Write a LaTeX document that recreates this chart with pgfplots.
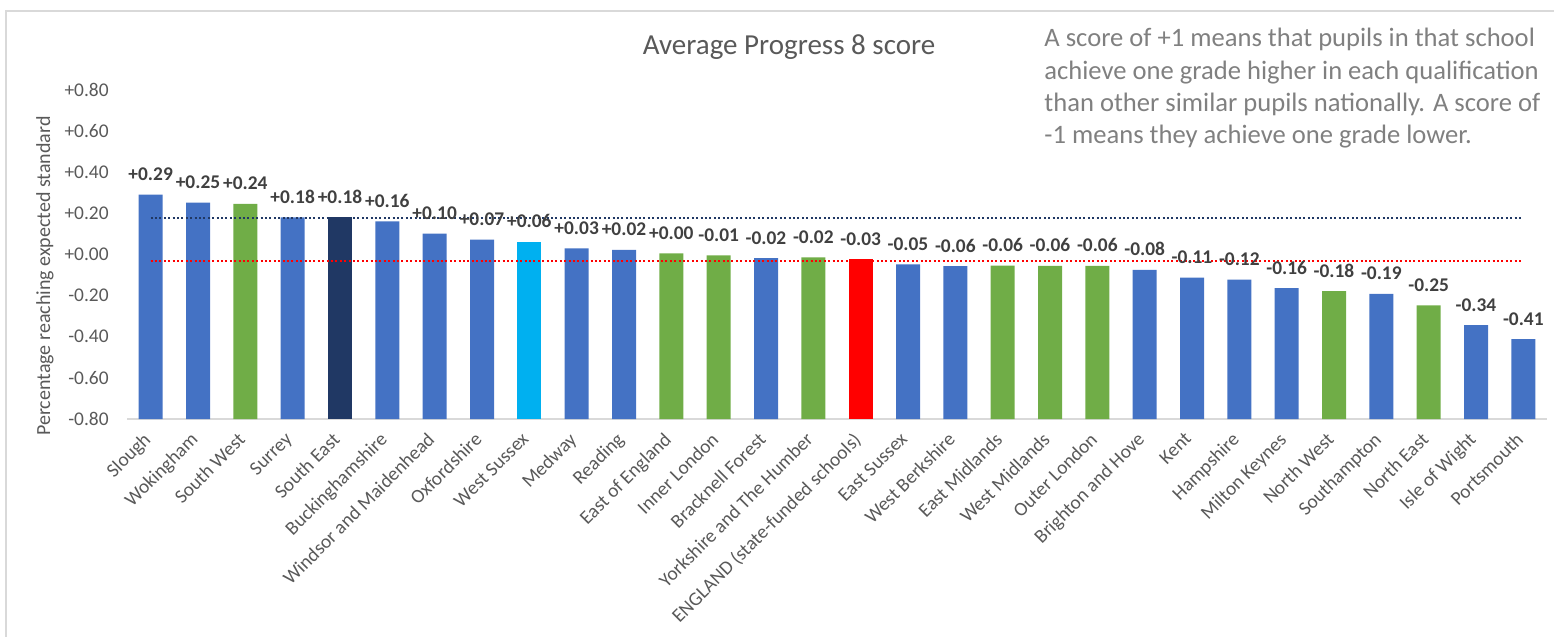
\documentclass[border=0pt]{standalone}
\usepackage{pgfplots}
\pgfplotsset{compat=1.18}
\usepackage{pgfplotstable}
\usepackage{fontspec}
\setmainfont{Carlito}
\definecolor{cblue}{HTML}{4472C4}
\definecolor{cgreen}{HTML}{70AD47}
\definecolor{cnavy}{HTML}{203864}
\definecolor{ccyan}{HTML}{00B0F0}
\definecolor{cred}{HTML}{FF0000}
\definecolor{ctext}{HTML}{595959}
\definecolor{clab}{HTML}{404040}
\definecolor{cnote}{HTML}{808080}
\definecolor{cframe}{HTML}{D9D9D9}

% values
\pgfplotstableread{
x v lab
0 0.291 +0.29
1 0.252 +0.25
3 0.181 +0.18
5 0.161 +0.16
6 0.101 +0.10
7 0.072 +0.07
9 0.030 +0.03
10 0.022 +0.02
13 -0.018 -0.02
16 -0.048 -0.05
17 -0.057 -0.06
21 -0.075 -0.08
22 -0.113 -0.11
23 -0.122 -0.12
24 -0.163 -0.16
26 -0.192 -0.19
28 -0.343 -0.34
29 -0.411 -0.41
}\blueT
\pgfplotstableread{
x v lab
2 0.246 +0.24
11 0.006 +0.00
12 -0.004 -0.01
14 -0.014 -0.02
18 -0.054 -0.06
19 -0.055 -0.06
20 -0.055 -0.06
25 -0.178 -0.18
27 -0.247 -0.25
}\greenT
\pgfplotstableread{
x v lab
4 0.181 +0.18
}\navyT
\pgfplotstableread{
x v lab
8 0.062 +0.06
}\cyanT
\pgfplotstableread{
x v lab
15 -0.023 -0.03
}\redT
\pgfplotstableread{
x v
0 0.178
29 0.178
}\navyline
\pgfplotstableread{
x v
0 -0.030
29 -0.030
}\redline

\begin{document}
\begin{tikzpicture}[x=1pt,y=1pt]
\useasboundingbox (-63.5,-109) rectangle (713.5,209.5);
\draw[cframe, line width=1pt] (-60.5,-112) -- (-60.5,204) -- (716,204);
\begin{axis}[
  at={(0pt,0pt)}, anchor=south west,
  scale only axis, width=710pt, height=164.5pt,
  xmin=-0.5, xmax=29.5, ymin=0, ymax=1.6,
  enlargelimits=false, clip=false,
  axis x line*=bottom, axis y line*=left,
  x axis line style={draw=cframe, line width=1pt, -},
  y axis line style={draw=none},
  tick style={draw=none},
  ytick={0,0.2,0.4,0.6,0.8,1,1.2,1.4,1.6},
  yticklabels={-0.80,-0.60,-0.40,-0.20,+0.00,+0.20,+0.40,+0.60,+0.80},
  yticklabel style={font=\fontsize{9.7pt}{11pt}\selectfont, color=ctext, anchor=east, inner sep=0pt, xshift=-9pt},
  xtick={0,...,29},
  xticklabels={Slough,Wokingham,South West,Surrey,South East,Buckinghamshire,Windsor and Maidenhead,Oxfordshire,West Sussex,Medway,Reading,East of England,Inner London,Bracknell Forest,Yorkshire and The Humber,ENGLAND (state-funded schools),East Sussex,West Berkshire,East Midlands,West Midlands,Outer London,Brighton and Hove,Kent,Hampshire,Milton Keynes,North West,Southampton,North East,Isle of Wight,Portsmouth},
  xticklabel style={font=\fontsize{9.7pt}{11pt}\selectfont, color=ctext, xshift=-4.3pt, yshift=-1.6pt, rotate=45, anchor=north east, inner sep=0pt},
  ybar, bar width=12pt, bar shift=0pt,
  point meta=explicit symbolic,
  nodes near coords,
  every node near coord/.append style={font=\bfseries\fontsize{9.7pt}{11pt}\selectfont, color=clab, anchor=base, inner sep=0pt, yshift=7pt},
]
\addplot[fill=cblue, draw=none] table[x=x, y expr=\thisrow{v}+0.8, meta=lab] {\blueT};
\addplot[fill=cgreen, draw=none] table[x=x, y expr=\thisrow{v}+0.8, meta=lab] {\greenT};
\addplot[fill=cnavy, draw=none] table[x=x, y expr=\thisrow{v}+0.8, meta=lab] {\navyT};
\addplot[fill=ccyan, draw=none] table[x=x, y expr=\thisrow{v}+0.8, meta=lab] {\cyanT};
\addplot[fill=cred, draw=none] table[x=x, y expr=\thisrow{v}+0.8, meta=lab] {\redT};
\addplot[sharp plot, no marks, nodes near coords={}, cnavy, line width=1pt, dash pattern=on 1pt off 1.2pt] table[x=x, y expr=\thisrow{v}+0.8, meta=x] {\navyline};
\addplot[sharp plot, no marks, nodes near coords={}, cred, line width=1pt, dash pattern=on 1pt off 1.2pt] table[x=x, y expr=\thisrow{v}+0.8, meta=x] {\redline};
\end{axis}
\node[anchor=base, color=ctext, font=\fontsize{14.5pt}{17pt}\selectfont] at (331,182) {Average Progress 8 score};
\begin{scope}[every node/.style={anchor=base west, inner sep=0pt, color=cnote, font=\fontsize{13.3pt}{16pt}\selectfont}]
\node at (458.5,186) {A score of +1 means that pupils in that school};
\node at (458.5,169.9) {achieve one grade higher in each qualification};
\node at (458.5,153.8) {than other similar pupils nationally. A score of};
\node at (458.5,137.8) {-1 means they achieve one grade lower.};
\end{scope}
\node[rotate=90, color=ctext, font=\fontsize{10pt}{12pt}\selectfont] at (-41,71.5) {Percentage reaching expected standard};
\end{tikzpicture}
\end{document}
